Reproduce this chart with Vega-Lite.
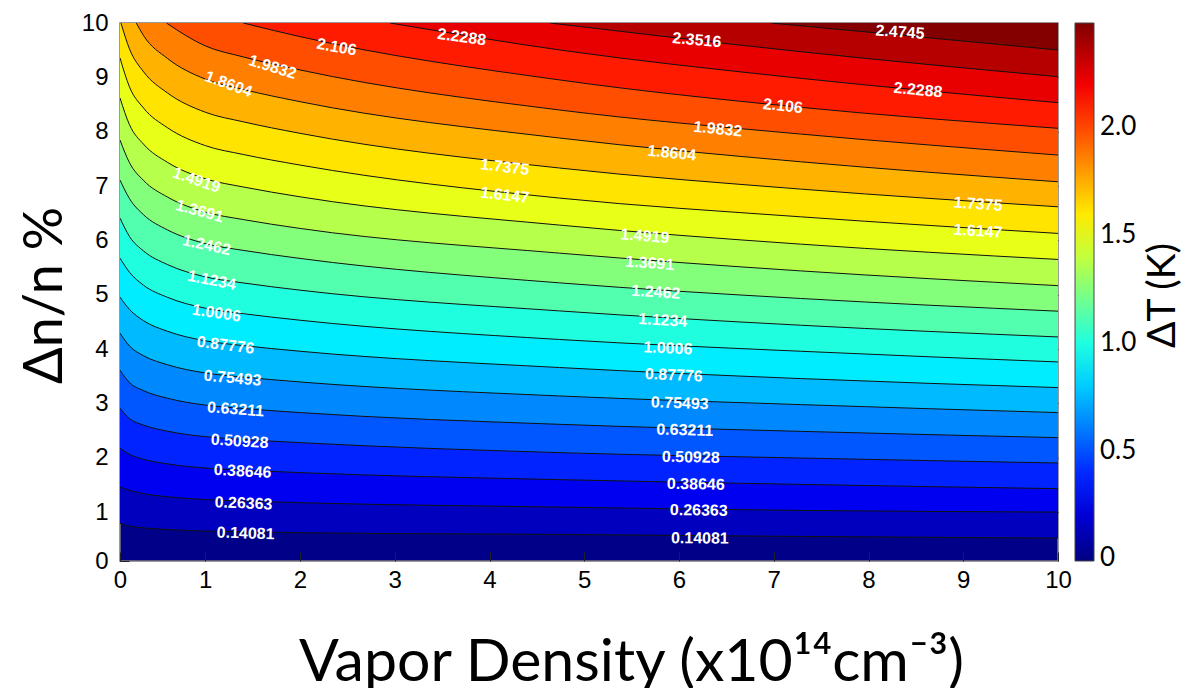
{
  "$schema": "https://vega.github.io/schema/vega-lite/v6.json",
  "width": 938,
  "height": 538,
  "autosize": {"type": "none"},
  "padding": {"left": 120, "top": 23, "right": 141, "bottom": 127},
  "background": "white",
  "config": {
    "view": {"stroke": "#7a7a7a", "strokeWidth": 1.5, "fill": "#000088"}
  },
  "datasets": {
    "contours": [
      {"level": 0.14081, "x": 0.1, "y": 0.792}, {"level": 0.14081, "x": 0.2, "y": 0.742}, {"level": 0.14081, "x": 0.35, "y": 0.709}, {"level": 0.14081, "x": 0.6, "y": 0.679}, {"level": 0.14081, "x": 1.0, "y": 0.651}, {"level": 0.14081, "x": 1.4, "y": 0.638}, {"level": 0.14081, "x": 2.0, "y": 0.621}, {"level": 0.14081, "x": 4.74, "y": 0.589}, {"level": 0.14081, "x": 7.28, "y": 0.552}, {"level": 0.14081, "x": 10, "y": 0.521},
      {"level": 0.26363, "x": 0.1, "y": 1.455}, {"level": 0.26363, "x": 0.2, "y": 1.401}, {"level": 0.26363, "x": 0.35, "y": 1.339}, {"level": 0.26363, "x": 0.6, "y": 1.282}, {"level": 0.26363, "x": 1.0, "y": 1.23}, {"level": 0.26363, "x": 1.4, "y": 1.204}, {"level": 0.26363, "x": 2.0, "y": 1.173}, {"level": 0.26363, "x": 4.74, "y": 1.092}, {"level": 0.26363, "x": 7.28, "y": 1.031}, {"level": 0.26363, "x": 10, "y": 1.0},
      {"level": 0.38646, "x": 0.1, "y": 2.173}, {"level": 0.38646, "x": 0.2, "y": 2.062}, {"level": 0.38646, "x": 0.35, "y": 1.971}, {"level": 0.38646, "x": 0.6, "y": 1.887}, {"level": 0.38646, "x": 1.0, "y": 1.81}, {"level": 0.38646, "x": 1.4, "y": 1.772}, {"level": 0.38646, "x": 2.0, "y": 1.726}, {"level": 0.38646, "x": 4.74, "y": 1.597}, {"level": 0.38646, "x": 7.28, "y": 1.51}, {"level": 0.38646, "x": 10, "y": 1.431},
      {"level": 0.50928, "x": 0.1, "y": 2.91}, {"level": 0.50928, "x": 0.2, "y": 2.72}, {"level": 0.50928, "x": 0.35, "y": 2.6}, {"level": 0.50928, "x": 0.6, "y": 2.489}, {"level": 0.50928, "x": 1.0, "y": 2.388}, {"level": 0.50928, "x": 1.4, "y": 2.337}, {"level": 0.50928, "x": 2.0, "y": 2.278}, {"level": 0.50928, "x": 4.74, "y": 2.094}, {"level": 0.50928, "x": 7.28, "y": 1.995}, {"level": 0.50928, "x": 10, "y": 1.903},
      {"level": 0.63211, "x": 0.1, "y": 3.61}, {"level": 0.63211, "x": 0.2, "y": 3.383}, {"level": 0.63211, "x": 0.35, "y": 3.233}, {"level": 0.63211, "x": 0.6, "y": 3.096}, {"level": 0.63211, "x": 1.0, "y": 2.969}, {"level": 0.63211, "x": 1.4, "y": 2.907}, {"level": 0.63211, "x": 2.0, "y": 2.831}, {"level": 0.63211, "x": 4.74, "y": 2.615}, {"level": 0.63211, "x": 7.28, "y": 2.486}, {"level": 0.63211, "x": 10, "y": 2.37},
      {"level": 0.75493, "x": 0.1, "y": 4.292}, {"level": 0.75493, "x": 0.2, "y": 4.056}, {"level": 0.75493, "x": 0.35, "y": 3.876}, {"level": 0.75493, "x": 0.6, "y": 3.712}, {"level": 0.75493, "x": 1.0, "y": 3.56}, {"level": 0.75493, "x": 1.4, "y": 3.485}, {"level": 0.75493, "x": 2.0, "y": 3.395}, {"level": 0.75493, "x": 4.74, "y": 3.137}, {"level": 0.75493, "x": 7.28, "y": 2.978}, {"level": 0.75493, "x": 10, "y": 2.831},
      {"level": 0.87776, "x": 0.1, "y": 4.955}, {"level": 0.87776, "x": 0.2, "y": 4.73}, {"level": 0.87776, "x": 0.35, "y": 4.52}, {"level": 0.87776, "x": 0.6, "y": 4.328}, {"level": 0.87776, "x": 1.0, "y": 4.152}, {"level": 0.87776, "x": 1.4, "y": 4.064}, {"level": 0.87776, "x": 2.0, "y": 3.96}, {"level": 0.87776, "x": 4.74, "y": 3.66}, {"level": 0.87776, "x": 7.28, "y": 3.457}, {"level": 0.87776, "x": 10, "y": 3.291},
      {"level": 1.0006, "x": 0.1, "y": 5.673}, {"level": 1.0006, "x": 0.2, "y": 5.414}, {"level": 1.0006, "x": 0.35, "y": 5.173}, {"level": 1.0006, "x": 0.6, "y": 4.953}, {"level": 1.0006, "x": 1.0, "y": 4.752}, {"level": 1.0006, "x": 1.4, "y": 4.651}, {"level": 1.0006, "x": 2.0, "y": 4.531}, {"level": 1.0006, "x": 4.74, "y": 4.176}, {"level": 1.0006, "x": 7.28, "y": 3.96}, {"level": 1.0006, "x": 10, "y": 3.763},
      {"level": 1.1234, "x": 0.1, "y": 6.41}, {"level": 1.1234, "x": 0.2, "y": 6.072}, {"level": 1.1234, "x": 0.35, "y": 5.803}, {"level": 1.1234, "x": 0.6, "y": 5.556}, {"level": 1.1234, "x": 1.0, "y": 5.329}, {"level": 1.1234, "x": 1.4, "y": 5.217}, {"level": 1.1234, "x": 2.0, "y": 5.084}, {"level": 1.1234, "x": 4.74, "y": 4.702}, {"level": 1.1234, "x": 7.28, "y": 4.439}, {"level": 1.1234, "x": 10, "y": 4.223},
      {"level": 1.2462, "x": 0.1, "y": 7.11}, {"level": 1.2462, "x": 0.2, "y": 6.769}, {"level": 1.2462, "x": 0.35, "y": 6.469}, {"level": 1.2462, "x": 0.6, "y": 6.194}, {"level": 1.2462, "x": 1.0, "y": 5.941}, {"level": 1.2462, "x": 1.4, "y": 5.816}, {"level": 1.2462, "x": 2.0, "y": 5.668}, {"level": 1.2462, "x": 4.74, "y": 5.218}, {"level": 1.2462, "x": 7.28, "y": 4.931}, {"level": 1.2462, "x": 10, "y": 4.697},
      {"level": 1.3691, "x": 0.1, "y": 7.847}, {"level": 1.3691, "x": 0.2, "y": 7.429}, {"level": 1.3691, "x": 0.35, "y": 7.1}, {"level": 1.3691, "x": 0.6, "y": 6.798}, {"level": 1.3691, "x": 1.0, "y": 6.521}, {"level": 1.3691, "x": 1.4, "y": 6.383}, {"level": 1.3691, "x": 2.0, "y": 6.22}, {"level": 1.3691, "x": 4.74, "y": 5.765}, {"level": 1.3691, "x": 7.28, "y": 5.439}, {"level": 1.3691, "x": 10, "y": 5.167},
      {"level": 1.4919, "x": 0.1, "y": 8.62}, {"level": 1.4919, "x": 0.2, "y": 8.128}, {"level": 1.4919, "x": 0.35, "y": 7.767}, {"level": 1.4919, "x": 0.6, "y": 7.437}, {"level": 1.4919, "x": 1.0, "y": 7.134}, {"level": 1.4919, "x": 1.4, "y": 6.983}, {"level": 1.4919, "x": 2.0, "y": 6.802}, {"level": 1.4919, "x": 4.74, "y": 6.281}, {"level": 1.4919, "x": 7.28, "y": 5.931}, {"level": 1.4919, "x": 10, "y": 5.649},
      {"level": 1.6147, "x": 0.1, "y": 9.357}, {"level": 1.6147, "x": 0.2, "y": 8.824}, {"level": 1.6147, "x": 0.35, "y": 8.432}, {"level": 1.6147, "x": 0.6, "y": 8.074}, {"level": 1.6147, "x": 1.0, "y": 7.744}, {"level": 1.6147, "x": 1.4, "y": 7.581}, {"level": 1.6147, "x": 2.0, "y": 7.386}, {"level": 1.6147, "x": 4.74, "y": 6.778}, {"level": 1.6147, "x": 7.28, "y": 6.434}, {"level": 1.6147, "x": 10, "y": 6.128},
      {"level": 1.7375, "x": 0.11, "y": 10}, {"level": 1.7375, "x": 0.2, "y": 9.523}, {"level": 1.7375, "x": 0.35, "y": 9.1}, {"level": 1.7375, "x": 0.6, "y": 8.714}, {"level": 1.7375, "x": 1.0, "y": 8.358}, {"level": 1.7375, "x": 1.4, "y": 8.182}, {"level": 1.7375, "x": 2.0, "y": 7.97}, {"level": 1.7375, "x": 4.74, "y": 7.331}, {"level": 1.7375, "x": 7.28, "y": 6.944}, {"level": 1.7375, "x": 10, "y": 6.618},
      {"level": 1.8604, "x": 0.272, "y": 10}, {"level": 1.8604, "x": 0.35, "y": 9.764}, {"level": 1.8604, "x": 0.6, "y": 9.349}, {"level": 1.8604, "x": 1.0, "y": 8.968}, {"level": 1.8604, "x": 1.4, "y": 8.778}, {"level": 1.8604, "x": 2.0, "y": 8.552}, {"level": 1.8604, "x": 4.74, "y": 7.883}, {"level": 1.8604, "x": 7.28, "y": 7.447}, {"level": 1.8604, "x": 10, "y": 7.078},
      {"level": 1.9832, "x": 0.59, "y": 10}, {"level": 1.9832, "x": 1.0, "y": 9.579}, {"level": 1.9832, "x": 1.4, "y": 9.376}, {"level": 1.9832, "x": 2.0, "y": 9.136}, {"level": 1.9832, "x": 4.74, "y": 8.399}, {"level": 1.9832, "x": 7.28, "y": 7.957}, {"level": 1.9832, "x": 10, "y": 7.57},
      {"level": 2.106, "x": 1.4, "y": 10}, {"level": 2.106, "x": 2.0, "y": 9.749}, {"level": 2.106, "x": 4.74, "y": 8.952}, {"level": 2.106, "x": 7.28, "y": 8.449}, {"level": 2.106, "x": 10, "y": 8.062},
      {"level": 2.2288, "x": 2.95, "y": 10}, {"level": 2.2288, "x": 4.74, "y": 9.504}, {"level": 2.2288, "x": 7.28, "y": 8.983}, {"level": 2.2288, "x": 10, "y": 8.534},
      {"level": 2.3516, "x": 4.64, "y": 10}, {"level": 2.3516, "x": 7.28, "y": 9.473}, {"level": 2.3516, "x": 10, "y": 9.012},
      {"level": 2.4745, "x": 6.97, "y": 10}, {"level": 2.4745, "x": 10, "y": 9.504}
    ],
    "labels": [
      {"text": "0.14081", "x": 1.426, "y": 0.608, "slope": -0.06},
      {"text": "0.26363", "x": 1.404, "y": 1.16, "slope": -0.07},
      {"text": "0.38646", "x": 1.394, "y": 1.75, "slope": -0.09},
      {"text": "0.50928", "x": 1.362, "y": 2.302, "slope": -0.11},
      {"text": "0.63211", "x": 1.32, "y": 2.891, "slope": -0.13},
      {"text": "0.75493", "x": 1.288, "y": 3.463, "slope": -0.16},
      {"text": "0.87776", "x": 1.214, "y": 4.071, "slope": -0.22},
      {"text": "1.0006", "x": 1.119, "y": 4.66, "slope": -0.26},
      {"text": "1.1234", "x": 1.067, "y": 5.264, "slope": -0.35},
      {"text": "1.2462", "x": 1.014, "y": 5.909, "slope": -0.38},
      {"text": "1.3691", "x": 0.94, "y": 6.535, "slope": -0.47},
      {"text": "1.4919", "x": 0.908, "y": 7.106, "slope": -0.6},
      {"text": "1.8604", "x": 1.246, "y": 8.874, "slope": -0.63},
      {"text": "1.9832", "x": 1.711, "y": 9.187, "slope": -0.53},
      {"text": "2.106", "x": 2.387, "y": 9.555, "slope": -0.31},
      {"text": "2.2288", "x": 3.707, "y": 9.739, "slope": -0.245},
      {"text": "2.3516", "x": 6.188, "y": 9.684, "slope": -0.15},
      {"text": "2.4745", "x": 8.332, "y": 9.831, "slope": -0.12},
      {"text": "2.2288", "x": 8.522, "y": 8.765, "slope": -0.165},
      {"text": "2.106", "x": 7.096, "y": 8.471, "slope": -0.19},
      {"text": "1.9832", "x": 6.41, "y": 8.047, "slope": -0.175},
      {"text": "1.8604", "x": 5.924, "y": 7.605, "slope": -0.17},
      {"text": "1.7375", "x": 4.161, "y": 7.347, "slope": -0.2},
      {"text": "1.6147", "x": 4.161, "y": 6.831, "slope": -0.2},
      {"text": "1.7375", "x": 9.155, "y": 6.665, "slope": -0.12},
      {"text": "1.6147", "x": 9.155, "y": 6.168, "slope": -0.11},
      {"text": "1.4919", "x": 5.639, "y": 6.076, "slope": -0.14},
      {"text": "1.3691", "x": 5.692, "y": 5.579, "slope": -0.13},
      {"text": "1.2462", "x": 5.755, "y": 5.045, "slope": -0.11},
      {"text": "1.1234", "x": 5.829, "y": 4.529, "slope": -0.1},
      {"text": "1.0006", "x": 5.882, "y": 4.013, "slope": -0.085},
      {"text": "0.87776", "x": 5.945, "y": 3.518, "slope": -0.08},
      {"text": "0.75493", "x": 6.008, "y": 3.002, "slope": -0.06},
      {"text": "0.63211", "x": 6.061, "y": 2.506, "slope": -0.05},
      {"text": "0.50928", "x": 6.124, "y": 2.008, "slope": -0.04},
      {"text": "0.38646", "x": 6.177, "y": 1.511, "slope": -0.034},
      {"text": "0.26363", "x": 6.209, "y": 1.031, "slope": -0.024},
      {"text": "0.14081", "x": 6.22, "y": 0.516, "slope": -0.015}
    ]
  },
  "layer": [
    {
      "data": {"name": "contours"},
      "mark": {"type": "area", "interpolate": "monotone", "clip": true, "opacity": 1},
      "encoding": {
        "x": {
          "field": "x", "type": "quantitative",
          "scale": {"domain": [0.1, 10], "nice": false, "zero": false},
          "axis": {
            "orient": "bottom",
            "values": [0.1, 1, 2, 3, 4, 5, 6, 7, 8, 9, 10],
            "labelExpr": "datum.value < 0.5 ? '0' : datum.label",
            "labelFlush": false, "labelOverlap": false,
            "labelFont": "Liberation Sans", "labelFontSize": 24, "labelColor": "black",
            "labelPadding": 16, "tickSize": -9, "tickColor": "#222", "tickWidth": 1,
            "domain": false, "grid": false,
            "title": "Vapor Density (x10¹⁴cm⁻³)",
            "titleFont": "Lato", "titleFontSize": 59, "titleFontWeight": "normal", "titleColor": "black",
            "titleX": 511, "titleY": 119, "titleAlign": "center", "titleBaseline": "alphabetic"
          }
        },
        "y": {
          "field": "y", "type": "quantitative", "stack": null,
          "scale": {"domain": [0.1, 10], "nice": false, "zero": false},
          "axis": {
            "orient": "left",
            "values": [0.1, 1, 2, 3, 4, 5, 6, 7, 8, 9, 10],
            "labelExpr": "datum.value < 0.5 ? '0' : datum.label",
            "labelFlush": false, "labelOverlap": false,
            "labelFont": "Liberation Sans", "labelFontSize": 24, "labelColor": "black",
            "labelPadding": 21, "tickSize": -9, "tickColor": "#222", "tickWidth": 1,
            "domain": false, "grid": false,
            "title": "Δn/n %",
            "titleFont": "Lato", "titleFontSize": 54, "titleFontWeight": "normal", "titleColor": "black",
            "titleX": -75, "titleY": 272, "titleAngle": 270, "titleAlign": "center", "titleBaseline": "middle"
          }
        },
        "y2": {"datum": 10},
        "detail": {"field": "level", "type": "quantitative"},
        "color": {
          "field": "level", "type": "quantitative",
          "scale": {
            "domain": [-0.012, 2.485],
            "range": ["#000080", "#0000ff", "#0080ff", "#00ffff", "#80ff80", "#ffff00", "#ff8000", "#ff0000", "#800000"],
            "interpolate": "rgb"
          },
          "legend": {
            "orient": "none", "legendX": 955, "legendY": 0, "direction": "vertical",
            "gradientLength": 538, "gradientThickness": 19,
            "gradientStrokeColor": "#444", "gradientStrokeWidth": 1,
            "values": [0, 0.5, 1, 1.5, 2],
            "labelExpr": "datum.value == 0 ? '0' : format(datum.value, '.1f')",
            "labelFont": "Lato", "labelFontSize": 26, "labelColor": "black", "labelOffset": 6,
            "labelBaseline": "middle",
            "title": null
          }
        }
      }
    },
    {
      "data": {"name": "contours"},
      "mark": {"type": "line", "interpolate": "monotone", "clip": true, "color": "#111", "strokeWidth": 1},
      "encoding": {
        "x": {"field": "x", "type": "quantitative", "axis": {"orient": "top", "values": [1, 2, 3, 4, 5, 6, 7, 8, 9], "labels": false, "title": null, "tickSize": -9, "tickColor": "#222", "domain": false, "grid": false}},
        "y": {"field": "y", "type": "quantitative", "axis": {
          "orient": "right", "values": [1, 2, 3, 4, 5, 6, 7, 8, 9], "labels": false, "tickSize": -9, "tickColor": "#222", "domain": false, "grid": false,
          "title": "ΔT (K)", "titleFont": "Lato", "titleFontSize": 39, "titleFontWeight": "normal", "titleColor": "black",
          "titleX": 104, "titleY": 272, "titleAngle": 270, "titleAlign": "center", "titleBaseline": "middle"
        }},
        "detail": {"field": "level", "type": "quantitative"}
      }
    },
    {
      "data": {"name": "labels"},
      "transform": [{"calculate": "-atan(datum.slope * 54.29 / 94.7) * 180 / PI", "as": "angle"}],
      "mark": {"type": "text", "font": "Liberation Sans", "fontSize": 16, "fontWeight": "bold", "color": "white", "align": "center", "baseline": "middle"},
      "encoding": {
        "x": {"field": "x", "type": "quantitative", "axis": null},
        "y": {"field": "y", "type": "quantitative", "axis": null},
        "text": {"field": "text", "type": "nominal"},
        "angle": {"field": "angle", "type": "quantitative", "scale": null}
      }
    }
  ],
  "resolve": {"axis": {"x": "independent", "y": "independent"}}
}
